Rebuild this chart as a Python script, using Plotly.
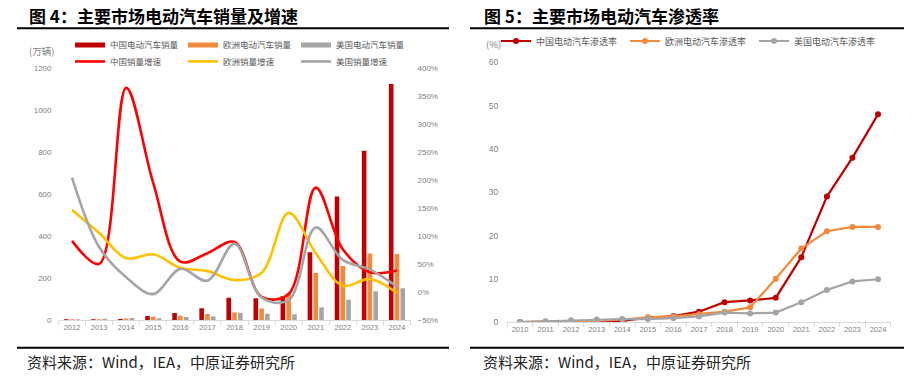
import plotly.graph_objects as go

W, H = 912, 378


def px(x):
    return x / W


def py(y):
    return 1 - y / H


# ---------------- data: chart 4 (sales, 万辆; growth, %) ----------------
years_sales = ['2012', '2013', '2014', '2015', '2016', '2017', '2018',
               '2019', '2020', '2021', '2022', '2023', '2024']
china_sales = [1, 2, 7, 21, 35, 58, 108, 106, 115, 325, 590, 808, 1125]
europe_sales = [1, 3, 9, 17, 22, 31, 38, 57, 130, 226, 259, 318, 316]
us_sales = [4, 8, 11, 10, 16, 19, 36, 32, 29, 63, 98, 139, 153]
china_growth = [92, 51, 365, 195, 55, 70, 90, -8, -3, 187, 77, 36, 39]
europe_growth = [147, 106, 61, 68, 44, 38, 22, 35, 142, 70, 12, 24, -1]
us_growth = [205, 81, 27, -3, 42, 21, 87, -9, -14, 116, 58, 41, 10]

# ---------------- data: chart 5 (penetration, %) ----------------
years_pen = ['2010', '2011', '2012', '2013', '2014', '2015', '2016', '2017',
             '2018', '2019', '2020', '2021', '2022', '2023', '2024']
china_pen = [0, 0.05, 0.1, 0.1, 0.3, 1.0, 1.4, 2.4, 4.6, 5.0, 5.6, 15.0, 29.0, 38.0, 48.0]
europe_pen = [0, 0.05, 0.1, 0.3, 0.6, 1.1, 1.3, 1.8, 2.4, 3.4, 10.0, 17.0, 21.0, 22.0, 22.0]
us_pen = [0, 0.2, 0.4, 0.6, 0.7, 0.7, 0.9, 1.3, 2.2, 2.0, 2.2, 4.6, 7.4, 9.4, 9.9]

sales_names = ['中国电动汽车销量', '欧洲电动汽车销量', '美国电动汽车销量']
growth_names = ['中国销量增速', '欧洲销量增速', '美国销量增速']
pen_names = ['中国电动汽车渗透率', '欧洲电动汽车渗透率', '美国电动汽车渗透率']

C_DARK = '#C00000'
C_ORANGE = '#F08A3C'
C_GRAY = '#A5A5A5'
C_RED = '#FF0000'
C_YELLOW = '#FFC000'

CJK = 'Noto Sans CJK SC'
NUM = 'Liberation Sans'
TICK_COLOR = '#7F7F7F'
LEG_COLOR = '#595959'

fig = go.Figure()

for name, vals, col in zip(sales_names, [china_sales, europe_sales, us_sales],
                           [C_DARK, C_ORANGE, C_GRAY]):
    fig.add_trace(go.Bar(x=years_sales, y=vals, name=name, marker_color=col,
                         marker_line_width=0, xaxis='x', yaxis='y',
                         showlegend=False, hoverinfo='skip'))
# legend keys for the bars (short thick strokes, as in the original)
for name, col in zip(sales_names, [C_DARK, C_ORANGE, C_GRAY]):
    fig.add_trace(go.Scatter(x=[None], y=[None], mode='lines', name=name,
                             line=dict(color=col, width=5), xaxis='x', yaxis='y',
                             legend='legend'))

for name, vals, col in zip(growth_names, [china_growth, europe_growth, us_growth],
                           [C_RED, C_YELLOW, C_GRAY]):
    fig.add_trace(go.Scatter(x=years_sales, y=vals, name=name, mode='lines',
                             line=dict(color=col, width=2.6, shape='spline', smoothing=1),
                             xaxis='x', yaxis='y2', legend='legend2'))

for name, vals, col in zip(pen_names, [china_pen, europe_pen, us_pen],
                           [C_DARK, C_ORANGE, C_GRAY]):
    fig.add_trace(go.Scatter(x=years_pen, y=vals, name=name, mode='lines+markers',
                             line=dict(color=col, width=2.2),
                             marker=dict(color=col, size=6),
                             xaxis='x2', yaxis='y3', legend='legend3'))

axis_line = '#D9D9D9'

fig.update_layout(
    width=W, height=H,
    margin=dict(l=0, r=0, t=0, b=0),
    paper_bgcolor='white', plot_bgcolor='rgba(0,0,0,0)',
    barmode='group', bargap=0.36, bargroupgap=0.2,
    font=dict(family=CJK, color=LEG_COLOR),
    xaxis=dict(domain=[px(58.5), px(410.5)], type='category', range=[-0.5, 12.5],
               anchor='y', showline=True, linecolor=axis_line, linewidth=1,
               ticks='outside', tickson='boundaries', ticklen=4, tickcolor=axis_line,
               tickangle=0,
               tickfont=dict(family=NUM, size=7.5, color=TICK_COLOR),
               showgrid=False, zeroline=False, fixedrange=True),
    yaxis=dict(domain=[py(324), py(65)], range=[0, 1200], dtick=200,
               anchor='x', showgrid=False, zeroline=False, showline=False,
               ticks='', tickfont=dict(family=NUM, size=8, color=TICK_COLOR),
               ticklabelstandoff=6, fixedrange=True),
    yaxis2=dict(overlaying='y', side='right', anchor='x', range=[-50, 400], dtick=50,
                ticksuffix='%', showgrid=False, zeroline=False, showline=False,
                ticks='', tickfont=dict(family=NUM, size=8, color=TICK_COLOR),
                ticklabelstandoff=6, fixedrange=True),
    xaxis2=dict(domain=[px(507.2), px(890.8)], type='category', range=[-0.5, 14.5],
                anchor='y3', showline=True, linecolor=axis_line, linewidth=1,
                ticks='outside', tickson='boundaries', ticklen=4, tickcolor=axis_line,
                tickangle=0,
                tickfont=dict(family=NUM, size=7.5, color=TICK_COLOR),
                showgrid=False, zeroline=False, fixedrange=True),
    yaxis3=dict(domain=[py(325.7), py(59)], range=[0, 60], dtick=10,
                anchor='x2', showgrid=False, zeroline=False, showline=False,
                ticks='', tickfont=dict(family=NUM, size=8.5, color=TICK_COLOR),
                ticklabelstandoff=8, fixedrange=True),
    legend=dict(x=px(70), y=py(41), xanchor='left', yanchor='middle',
                orientation='h', entrywidth=68, entrywidthmode='pixels',
                font=dict(family=CJK, size=8.5, color=LEG_COLOR),
                bgcolor='rgba(0,0,0,0)', itemclick=False, itemdoubleclick=False),
    legend2=dict(x=px(70), y=py(58), xanchor='left', yanchor='middle',
                 orientation='h', entrywidth=68, entrywidthmode='pixels',
                 font=dict(family=CJK, size=8.5, color=LEG_COLOR),
                 bgcolor='rgba(0,0,0,0)', itemclick=False, itemdoubleclick=False),
    legend3=dict(x=px(496), y=py(37), xanchor='left', yanchor='middle',
                 orientation='h', entrywidth=84, entrywidthmode='pixels',
                 font=dict(family=CJK, size=9, color=LEG_COLOR),
                 bgcolor='rgba(0,0,0,0)', itemclick=False, itemdoubleclick=False),
    showlegend=True,
)

annotations = [
    dict(text='<b>图 4：主要市场电动汽车销量及增速</b>', x=px(27), y=py(11),
         xanchor='left', yanchor='middle', font=dict(family=CJK, size=17, color='#000000')),
    dict(text='<b>图 5：主要市场电动汽车渗透率</b>', x=px(482), y=py(11),
         xanchor='left', yanchor='middle', font=dict(family=CJK, size=17, color='#000000')),
    dict(text='(万辆)', x=px(27), y=py(47), xanchor='left', yanchor='middle',
         font=dict(family=CJK, size=9.5, color=TICK_COLOR)),
    dict(text='(%)', x=px(484), y=py(40), xanchor='left', yanchor='middle',
         font=dict(family=CJK, size=9.5, color=TICK_COLOR)),
    dict(text='资料来源：Wind，IEA，中原证券研究所', x=px(25), y=py(366),
         xanchor='left', yanchor='middle', font=dict(family=CJK, size=15, color='#222222')),
    dict(text='资料来源：Wind，IEA，中原证券研究所', x=px(481), y=py(366),
         xanchor='left', yanchor='middle', font=dict(family=CJK, size=15, color='#222222')),
]
for a in annotations:
    a.update(xref='paper', yref='paper', showarrow=False)
fig.update_layout(annotations=annotations)

shapes = []
for x0, x1 in [(17, 449), (470, 904)]:
    shapes.append(dict(type='line', xref='paper', yref='paper', x0=px(x0), x1=px(x1),
                       y0=py(24), y1=py(24), line=dict(color='#000000', width=2)))
    shapes.append(dict(type='line', xref='paper', yref='paper', x0=px(x0), x1=px(x1),
                       y0=py(352), y1=py(352), line=dict(color='#000000', width=2)))
fig.update_layout(shapes=shapes)

# remove the browser's default 8px page margin so the 912x378 figure fills the window
fig.write_html('out.html', config={'displayModeBar': False},
               post_script="document.body.style.margin='0px';")
